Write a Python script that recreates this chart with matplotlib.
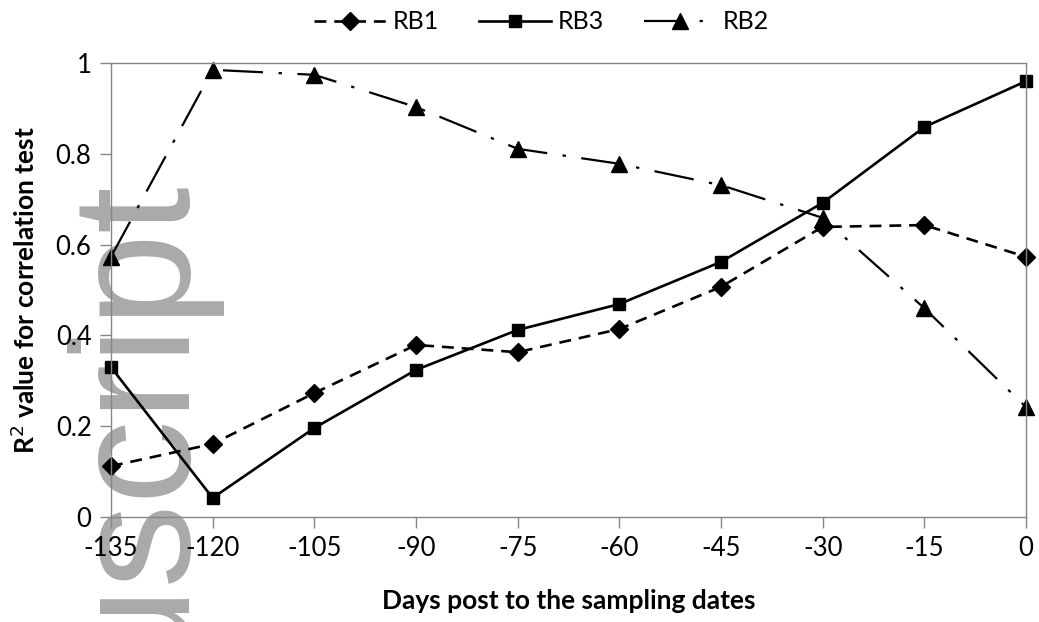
import matplotlib.pyplot as plt

# data
days = [-135, -120, -105, -90, -75, -60, -45, -30, -15, 0]
rb1 = [0.112, 0.161, 0.273, 0.379, 0.363, 0.414, 0.507, 0.639, 0.643, 0.573]
rb3 = [0.330, 0.042, 0.196, 0.324, 0.412, 0.469, 0.562, 0.692, 0.859, 0.960]
rb2 = [0.573, 0.985, 0.974, 0.903, 0.811, 0.778, 0.731, 0.659, 0.460, 0.242]

xticks = [-135, -120, -105, -90, -75, -60, -45, -30, -15, 0]
yticks = [0, 0.2, 0.4, 0.6, 0.8, 1]
ylabels = ['0', '0.2', '0.4', '0.6', '0.8', '1']

plt.rcParams['font.family'] = ['Lato', 'DejaVu Sans']

fig = plt.figure(figsize=(10.39, 6.22), dpi=100)
ax = fig.add_axes([0.1068, 0.1688, 0.8807, 0.7299])
ax.set_facecolor('none')
ax.set_zorder(1)

# faint watermark behind the chart
fig.text(0.131, -0.077, 'uscript', rotation=90, fontsize=121, color='#aaaaaa',
         family='Liberation Sans', ha='center', va='bottom', zorder=0)

ax.plot(days, rb1, color='black', lw=1.9, ls=(0, (4.5, 3)), marker='D',
        ms=9, label='RB1', clip_on=False)
ax.plot(days, rb3, color='black', lw=1.9, ls='-', marker='s',
        ms=9, label='RB3', clip_on=False)
ax.plot(days, rb2, color='black', lw=1.6, ls=(0, (18, 7, 1.5, 7)), marker='^',
        ms=11, label='RB2', clip_on=False)

ax.set_xlim(-135, 0)
ax.set_ylim(0, 1)
ax.set_xticks(xticks)
ax.set_xticklabels([str(t) for t in xticks])
ax.set_yticks(yticks)
ax.set_yticklabels(ylabels)
ax.tick_params(axis='both', labelsize=18.5, length=8, width=1, color='#868686',
               direction='out', pad=6)
for s in ax.spines.values():
    s.set_color('#868686')
    s.set_linewidth(1)

ax.set_xlabel('Days post to the sampling dates', fontsize=19, fontweight='bold',
              labelpad=20)
ax.set_ylabel('R$^2$ value for correlation test', fontsize=19, fontweight='bold',
              labelpad=12)

fig.legend(loc='center', bbox_to_anchor=(0.521, 0.965), ncol=3, frameon=False,
           fontsize=18, handlelength=2.9, columnspacing=1.6, handletextpad=0.25)

plt.savefig('out.png', dpi=100)
